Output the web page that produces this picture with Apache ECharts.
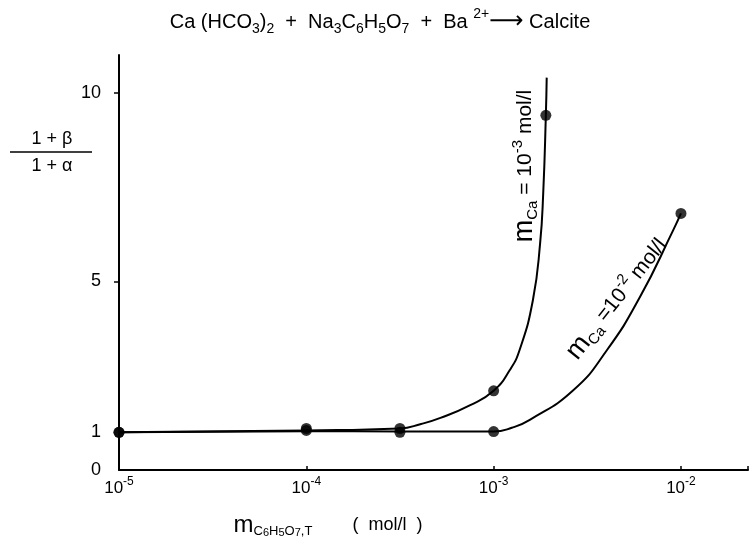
<!DOCTYPE html>
<html>
<head>
<meta charset="utf-8">
<script src="https://cdn.jsdelivr.net/npm/echarts@6/dist/echarts.min.js"></script>
<style>html,body{margin:0;padding:0;background:#fff}#c{width:755px;height:552px}</style>
</head>
<body>
<div id="c"></div>
<script>
// ---- data ----
const xTickExponents = [-5, -4, -3, -2];
const yTickLabels = [0, 1, 5, 10];
const yTickMarks = [5, 10];

// measured points, mCa = 1e-3 mol/l
const ptsCa3X = [1e-5, 1e-4, 3.16e-4, 1e-3, 1.9e-3];
const ptsCa3Y = [1.0, 1.1, 1.1, 2.1, 9.4];
// measured points, mCa = 1e-2 mol/l
const ptsCa2X = [1e-5, 1e-4, 3.16e-4, 1e-3, 1e-2];
const ptsCa2Y = [1.0, 1.05, 1.0, 1.02, 6.8];

// drawn curves
const curveCa3X = [1e-5, 1e-4, 3.16e-4, 4.1e-4, 5.2e-4, 7.5e-4, 1e-3, 1.22e-3, 1.38e-3, 1.62e-3, 1.77e-3, 1.84e-3, 1.9e-3, 1.92e-3];
const curveCa3Y = [1.0, 1.05, 1.1, 1.22, 1.38, 1.72, 2.1, 2.65, 3.2, 4.5, 6.0, 7.35, 9.4, 10.4];
const curveCa2X = [1e-5, 1e-4, 3.16e-4, 1e-3, 1.25e-3, 1.56e-3, 2.67e-3, 4.03e-3, 6.05e-3, 9.08e-3, 1e-2];
const curveCa2Y = [1.0, 1.03, 1.02, 1.02, 1.12, 1.33, 2.12, 3.18, 4.59, 6.35, 6.8];

const titleParts = [['b','Ca (HCO'],['sub','3'],['b',')'],['sub','2'],['b','  +  Na'],['sub','3'],['b','C'],['sub','6'],['b','H'],['sub','5'],['b','O'],['sub','7'],['b','  +  Ba '],['sup','2+'],['arr','⟶'],['b',' Calcite']];
const xTitleParts = [['m','m'],['sub','C'],['sub2','6'],['sub','H'],['sub2','5'],['sub','O'],['sub2','7'],['sub',',T'],['b','        (  mol/l  )']];
const label3Parts = [['m','m'],['sub','Ca'],['b',' = 10'],['sup','-3'],['b',' mol/l']];
const label2Parts = [['m','m'],['sub','Ca'],['b',' =10'],['sup','-2'],['b',' mol/l']];

// ---- helpers ----
const FF = 'Liberation Sans, Arial, sans-serif';
function zip(xs, ys) { return xs.map((x, i) => [x, ys[i]]); }
function rich(parts) { return parts.map(p => '{' + p[0] + '|' + p[1] + '}').join(''); }
function richStyles(base, small) {
  const L = Math.round(base * 1.45);
  return {
    b:    {fontSize: base, lineHeight: L, verticalAlign: 'middle', fontFamily: FF, color: '#000'},
    m:    {fontSize: base + 6, lineHeight: L, verticalAlign: 'middle', fontFamily: FF, color: '#000'},
    arr:  {fontSize: base + 4, lineHeight: L, verticalAlign: 'middle', fontFamily: 'DejaVu Sans', color: '#000'},
    sub:  {fontSize: small, lineHeight: Math.round(L*0.62), verticalAlign: 'bottom', fontFamily: FF, color: '#000'},
    sub2: {fontSize: small - 2, lineHeight: Math.round(L*0.45), verticalAlign: 'bottom', fontFamily: FF, color: '#000'},
    sup:  {fontSize: small, lineHeight: Math.round(L*0.62), verticalAlign: 'top', fontFamily: FF, color: '#000'}
  };
}
function txt(parts, x, y, base, small, rot) {
  return {
    type: 'text', x: x, y: y, rotation: rot || 0, z: 10,
    style: {text: rich(parts), rich: richStyles(base, small), align: 'center', verticalAlign: 'middle', fill: '#000'}
  };
}

const chart = echarts.init(document.getElementById('c'), null, {renderer: 'canvas'});
const lineBlack = {color: '#000', width: 2};
chart.setOption({
  backgroundColor: '#fff',
  animation: false,
  grid: {left: 119, right: 7, top: 55, bottom: 82},
  xAxis: {
    type: 'log', logBase: 10, min: 1e-5, max: 0.0228,
    axisLine: {lineStyle: lineBlack},
    axisTick: {show: true, inside: true, length: 4, lineStyle: {color: '#000', width: 1.5}},
    splitLine: {show: false},
    minorTick: {show: false},
    axisLabel: {
      margin: 6,
      formatter: function (v) {
        const e = Math.round(Math.log10(v));
        if (Math.abs(Math.log10(v) - e) > 1e-6 || xTickExponents.indexOf(e) < 0) return '';
        return '{b|10}{sup|' + e + '}';
      },
      rich: richStyles(17, 12)
    }
  },
  yAxis: {
    type: 'value', min: 0, max: 11, interval: 1,
    axisLine: {show: true, lineStyle: lineBlack},
    axisTick: {show: true, length: 5, customValues: yTickMarks, lineStyle: {color: '#000', width: 1.5}},
    splitLine: {show: false},
    axisLabel: {
      customValues: yTickLabels, margin: 18, color: '#000', fontSize: 18, fontFamily: FF
    }
  },
  series: [
    {type: 'line', data: zip(curveCa3X, curveCa3Y), smooth: 0.5, showSymbol: false, lineStyle: lineBlack, silent: true},
    {type: 'line', data: zip(curveCa2X, curveCa2Y), smooth: 0.5, showSymbol: false, lineStyle: lineBlack, silent: true},
    {type: 'scatter', data: zip(ptsCa3X, ptsCa3Y), symbolSize: 11, itemStyle: {color: '#000'}},
    {type: 'scatter', data: zip(ptsCa2X, ptsCa2Y), symbolSize: 11, itemStyle: {color: '#000'}}
  ],
  graphic: [
    txt(titleParts, 380, 22, 20, 14, 0),
    txt(xTitleParts, 328, 525, 18, 13, 0),
    txt(label3Parts, 525, 166, 21, 15, Math.PI / 2),
    txt(label2Parts, 617, 299, 21, 15, 0.9),
    {type: 'text', x: 52, y: 139, style: {text: '1 + β', font: '18px ' + FF, fill: '#000', align: 'center', verticalAlign: 'middle'}},
    {type: 'line', shape: {x1: 10, y1: 152, x2: 92, y2: 152}, style: {stroke: '#000', lineWidth: 1.5}},
    {type: 'text', x: 52, y: 166, style: {text: '1 + α', font: '18px ' + FF, fill: '#000', align: 'center', verticalAlign: 'middle'}}
  ]
});
</script>
</body>
</html>
